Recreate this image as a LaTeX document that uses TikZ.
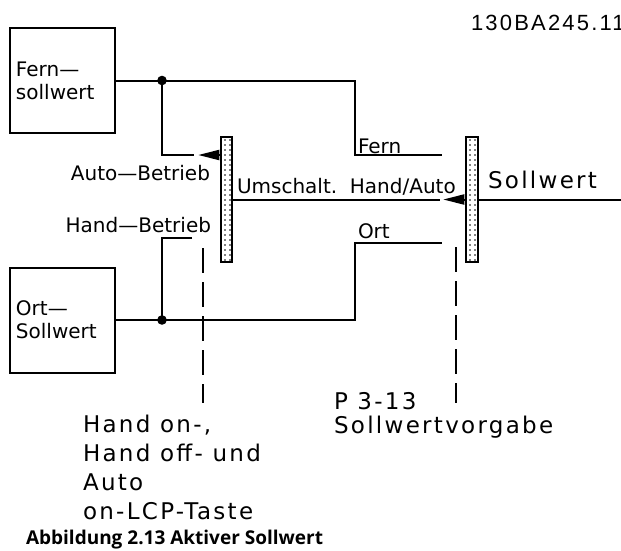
\documentclass[tikz,border=0pt]{standalone}
\usepackage{fontspec}
\setmainfont{DejaVu Sans}
\newfontfamily\notefont[LetterSpace=10]{DejaVu Sans}
\newfontfamily\codefont[LetterSpace=10]{Liberation Sans}
\newfontfamily\captionfont{Open Sans}
\usetikzlibrary{arrows.meta,patterns.meta}

\begin{document}
\begin{tikzpicture}[x=1pt,y=-1pt,line width=2pt,
		box/.style={draw, minimum width=105pt, minimum height=105pt, text width=93pt, inner xsep=6pt, align=left, font=\fontsize{20}{23}\selectfont},
		bar/.style={draw, line width=1.5pt, minimum width=11pt, minimum height=125pt, inner sep=0pt, pattern={Dots[distance=5pt,radius=0.8pt]}},
		contact/.style={-{Triangle[length=21pt,width=10pt]}},
		cad/.style={inner sep=0pt, font=\fontsize{20}{23}\selectfont},
		note/.style={inner sep=0pt, align=left, font=\notefont\fontsize{23}{29}\selectfont},
		guide/.style={dash pattern=on 25pt off 9pt}]
		\useasboundingbox (0,0) rectangle (621,550);
		% sources and switches
		\node[box] (fern) at (62.5,80.5) {Fern—\\sollwert};
		\node[box] (ort) at (62.5,320) {Ort—\\Sollwert};
		\node[bar] (sel) at (226.5,199.5) {};
		\node[bar, minimum width=12pt] (src) at (472,199.5) {};
		\coordinate (jf) at (162,80.5);
		\coordinate (jo) at (162,320);
		\coordinate (ae) at (194,155);
		\coordinate (he) at (192,238);
		\coordinate (fe) at (442,155);
		\coordinate (oe) at (442,243);
		\coordinate (ue) at (440,199.5);
		\coordinate (out) at (621,199.5);
		\coordinate (hk) at (203,403);
		\coordinate (pv) at (456,403);
		% wiring
		\draw (fern.east) -- (jf) -- ++(193,0) |- (fe);
		\draw (jf) |- (ae);
		\draw (he) -| (jo);
		\draw (ort.east) -- (jo) -- ++(193,0) |- (oe);
		\draw (sel.east) -- (ue);
		\draw (src.east) -- (out);
		\draw[contact] (sel.west |- ae) -- ++(-22,0);
		\draw[contact] (src.west) -- ++(-22,0);
		\fill (jf) circle (4.8);
		\fill (jo) circle (4.8);
		\draw[guide] (hk) ++(0,-155) -- (hk);
		\draw[guide] (pv) ++(0,-156) -- (pv);
		% labels
		\node[cad, anchor=base east] (autolbl) at (211,180) {Auto—Betrieb};
		\node[cad, anchor=base east] (handlbl) at (212,232) {Hand—Betrieb};
		\node[cad, anchor=base west] (umlbl) at (236,193) {Umschalt.\ \ Hand/Auto};
		\node[cad, anchor=base west] (fernlbl) at (357,153) {Fern};
		\node[cad, anchor=base west] (ortlbl) at (357,238) {Ort};
		\node[note, anchor=base west] (outlbl) at (487,188) {Sollwert};
		\node[note, anchor=north west] (keys) at (82,414.5) {Hand on-,\\Hand off- und\\Auto\\on-LCP-Taste};
		\node[note, anchor=north west, font=\notefont\fontsize{23}{24}\selectfont] (par) at (333,391) {P 3-13\\Sollwertvorgabe};
		\node[anchor=base west, inner sep=0pt, font=\codefont\fontsize{22}{24}\selectfont] (code) at (470,30) {130BA245.11};
		\node[anchor=base west, inner sep=0pt, font=\captionfont\bfseries\fontsize{19}{22}\selectfont] (cap) at (25,544.5) {Abbildung 2.13 Aktiver Sollwert};
	\end{tikzpicture}
\end{document}
